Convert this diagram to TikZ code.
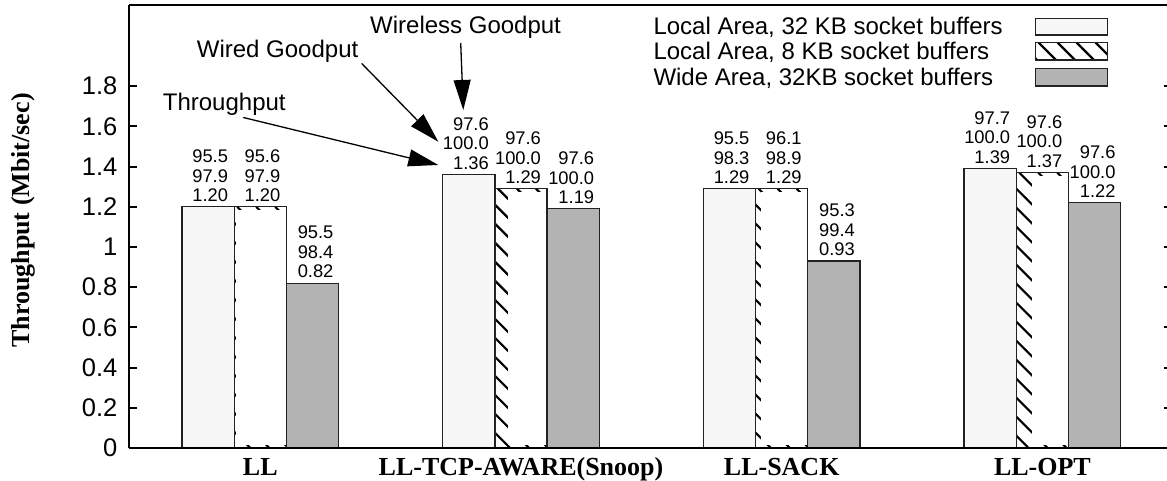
\documentclass[tikz,border=0pt]{standalone}
\usepackage{fontspec}
\setmainfont{Liberation Sans}
\newfontfamily\tnr{Liberation Serif}
\usetikzlibrary{arrows.meta}
\definecolor{barwhite}{HTML}{F7F7F7}
\definecolor{bargray}{HTML}{B3B3B3}
\definecolor{edgegray}{HTML}{222222}
\tikzset{
  axisline/.style={line width=2.7pt, draw=black},
  tickline/.style={line width=2pt, draw=black},
  barline/.style={line width=1.3pt, draw=edgegray},
  hatchline/.style={line width=2.2pt, draw=black},
  ticklab/.style={anchor=east, inner sep=0pt, font=\fontsize{25.5}{26}\selectfont},
  datalab/.style={anchor=south east, inner sep=0pt, text depth=0pt, align=right, font=\fontsize{18.3}{19.5}\selectfont},
  catlab/.style={anchor=base, inner sep=0pt, font=\fontsize{26}{28}\selectfont\tnr\bfseries},
  annot/.style={anchor=base west, inner sep=0pt, font=\fontsize{24}{26}\selectfont},
  legtext/.style={anchor=base west, inner sep=0pt, font=\fontsize{24}{26}\selectfont},
  pointer/.style={line width=1.3pt, draw=black, -{Triangle[length=30pt,width=17pt]}},
}
\newcommand\myhatch[4]{% x1, y1, x2, y2 (y down)
  \begin{scope}
    \clip (#1,#2) rectangle (#3,#4);
    \foreach \k in {0,...,22} {
      \draw[hatchline] ({#1-320+\k*19},#2) -- ++(360,360);
    }
  \end{scope}
}
\newcommand\mygroup[9]{% x0, v1, v2, v3, lab1, lab2, lab3, inset, prefix
  \pgfmathsetmacro\xa{#1}
  \pgfmathsetmacro\xb{#1+52.2}
  \pgfmathsetmacro\xc{#1+104.4}
  \pgfmathsetmacro\xd{#1+156.6}
  \pgfmathsetmacro\ya{448-201*#2}
  \pgfmathsetmacro\yb{448-201*#3}
  \pgfmathsetmacro\yc{448-201*#4}
  % bar 1
  \fill[barwhite] (\xa,\ya) rectangle (\xb,448);
  \draw[barline] (\xa,\ya) rectangle (\xb,448);
  % bar 2 (hatched, mostly covered)
  \fill[white] (\xb,\yb) rectangle (\xc,448);
  \myhatch{\xb}{\yb}{\xc}{448}
  \fill[white] ({\xb+#8},{\yb+3}) rectangle (\xc,445);
  \draw[barline] (\xb,\yb) rectangle (\xc,448);
  % bar 3
  \fill[bargray] (\xc,\yc) rectangle (\xd,448);
  \draw[barline] (\xc,\yc) rectangle (\xd,448);
  % labels
  \node[datalab] (#9a) at ({\xb-6},{\ya-5}) {#5};
  \node[datalab] (#9b) at ({\xc-6},{\yb-5}) {#6};
  \node[datalab] (#9c) at ({\xd-5},{\yc-5}) {#7};
}
\begin{document}
\begin{tikzpicture}[x=1pt,y=-1pt]
\useasboundingbox (0,0) rectangle (1167,481);
\fill[white] (0,0) rectangle (1167,481);

% bar groups
\mygroup{182}{1.20}{1.20}{0.82}{95.5\\97.9\\1.20}{95.6\\97.9\\1.20}{95.5\\98.4\\0.82}{2}{ll}
\mygroup{442.7}{1.36}{1.29}{1.19}{97.6\\100.0\\1.36}{97.6\\100.0\\1.29}{97.6\\100.0\\1.19}{13}{tcp}
\mygroup{703.4}{1.29}{1.29}{0.93}{95.5\\98.3\\1.29}{96.1\\98.9\\1.29}{95.3\\99.4\\0.93}{5}{sack}
\mygroup{964.1}{1.39}{1.37}{1.22}{97.7\\100.0\\1.39}{97.6\\100.0\\1.37}{97.6\\100.0\\1.22}{16}{opt}

% axes
\draw[axisline] (129,5) -- (1167,5);
\draw[axisline] (129,5) -- (129,448);
\draw[axisline] (129,448) -- (1167,448);

% ticks and labels
\foreach \v/\t [count=\i] in {0/0,0.2/0.2,0.4/0.4,0.6/0.6,0.8/0.8,1/1,1.2/1.2,1.4/1.4,1.6/1.6,1.8/1.8} {
  \pgfmathsetmacro\yy{448-201*\v}
  \draw[tickline] (129,\yy) -- (137,\yy);
  \node[ticklab] (tl\i) at (117.5,\yy) {\t};
}
\foreach \v in {0.2,0.4,0.6,0.8,1,1.2,1.4,1.6,1.8} {
  \pgfmathsetmacro\yy{448-201*\v}
  \draw[tickline] (1164,\yy) -- (1167,\yy);
}

% axis title
\node[rotate=90, inner sep=0pt, font=\fontsize{26}{28}\selectfont\tnr\bfseries] (ytitle) at (23,220.5) {Throughput (Mbit/sec)};

% category labels
\node[catlab] (c1) at (260.3,475) {LL};
\node[catlab] (c2) at (521,475) {LL-TCP-AWARE(Snoop)};
\node[catlab] (c3) at (781.7,475) {LL-SACK};
\node[catlab] (c4) at (1042.4,475) {LL-OPT};

% legend
\node[legtext] (lg1) at (653.3,35) {Local Area, 32 KB socket buffers};
\node[legtext] (lg2) at (653.3,60) {Local Area, 8 KB socket buffers};
\node[legtext] (lg3) at (653.3,85.5) {Wide Area, 32KB socket buffers};
\fill[barwhite] (1035.7,18.3) rectangle (1107.7,35);
\draw[barline] (1035.7,18.3) rectangle (1107.7,35);
\fill[white] (1035.7,42.7) rectangle (1107.7,60);
\myhatch{1035.7}{42.7}{1107.7}{60}
\draw[barline] (1035.7,42.7) rectangle (1107.7,60);
\fill[bargray] (1035.7,68.3) rectangle (1107.7,86);
\draw[barline] (1035.7,68.3) rectangle (1107.7,86);

% annotations
\node[annot] (thr) at (162.7,110.5) {Throughput};
\node[annot] (wrd) at (196.7,57.5) {Wired Goodput};
\node[annot] (wls) at (370,34) {Wireless Goodput};
\coordinate (thrS) at (243.3,117.5);
\coordinate (wrdS) at (361.7,63.5);
\coordinate (wlsS) at (460.7,43);
\coordinate (thrT) at (438.3,165);
\coordinate (wrdT) at (438.3,141.7);
\coordinate (wlsT) at (463.3,110);
\draw[pointer] (thrS) -- (thrT);
\draw[pointer] (wrdS) -- (wrdT);
\draw[pointer] (wlsS) -- (wlsT);
\end{tikzpicture}
\end{document}
